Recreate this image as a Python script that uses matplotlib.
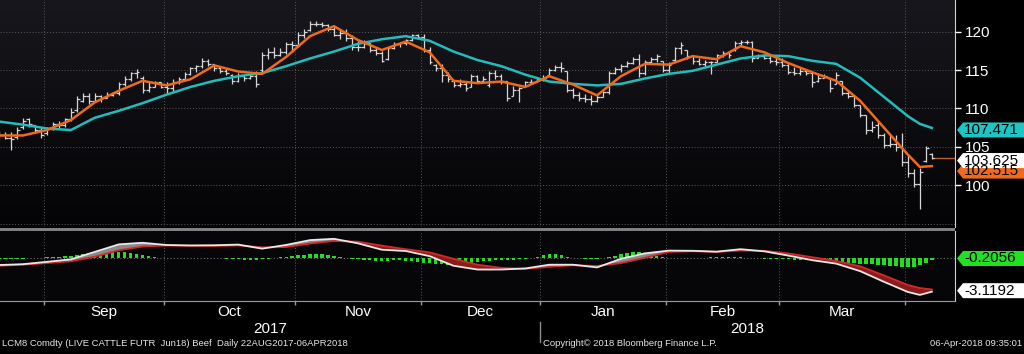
import numpy as np
import matplotlib
matplotlib.use("Agg")
import matplotlib.pyplot as plt
from matplotlib.patches import Polygon, Rectangle
from matplotlib.transforms import IdentityTransform, blended_transform_factory
from matplotlib.colors import LinearSegmentedColormap

plt.rcParams['font.family'] = ['Liberation Sans', 'DejaVu Sans']

# LCM8 daily bars, trading days 22 Aug 2017 .. 06 Apr 2018 (index 0..156)
bar_open = [106.8, 106.5, 106.2, 106.3, 107.6, 108.6, 107.8, 107.2, 106.8, 107.4,
            108.0, 107.8, 108.6, 109.8, 111.0, 111.6, 111.0, 111.6, 111.4, 111.8,
            112.0, 113.2, 113.8, 114.6, 114.0, 112.4, 112.8, 113.4, 112.8, 112.6,
            113.4, 113.8, 114.5, 115.2, 115.5, 116.2, 115.8, 115.2, 114.9, 114.4,
            113.6, 114.2, 114.0, 114.2, 115.0, 117.0, 117.4, 117.0, 117.4, 118.4,
            118.2, 119.6, 120.2, 121.0, 121.0, 120.8, 120.3, 119.6, 119.8, 119.2,
            118.0, 118.0, 118.5, 117.6, 117.2, 116.4, 117.8, 118.4, 118.5, 118.9,
            119.5, 119.3, 117.6, 115.6, 115.2, 114.4, 113.6, 113.1, 113.2, 112.8,
            114.2, 113.6, 113.0, 114.6, 114.2, 113.6, 111.6, 112.4, 112.8, 113.4,
            113.5, 113.8, 114.3, 115.0, 115.4, 114.9, 112.4, 111.8, 111.4, 111.2,
            111.0, 111.5, 112.1, 114.6, 115.1, 115.5, 115.9, 116.4, 114.6, 116.0,
            116.4, 116.2, 115.0, 116.3, 117.8, 117.6, 116.8, 116.2, 115.8, 116.0,
            116.1, 116.9, 117.2, 117.6, 118.5, 118.6, 118.7, 116.6, 116.8, 116.6,
            116.2, 116.0, 115.6, 114.8, 114.6, 114.9, 114.6, 113.6, 114.0, 113.9,
            113.2, 113.6, 112.0, 111.6, 110.4, 109.1, 107.2, 107.8, 106.6, 105.2,
            105.4, 105.0, 103.0, 101.6, 100.2, 103.2, 104.1]
bar_high = [107.1, 107.0, 107.0, 107.6, 108.8, 108.8, 107.8, 107.6, 107.6, 108.2,
            108.4, 108.8, 110.0, 111.6, 112.0, 112.0, 112.0, 111.8, 112.2, 112.2,
            113.4, 114.2, 114.8, 115.1, 114.2, 113.4, 113.6, 113.4, 113.4, 113.8,
            114.1, 114.7, 115.4, 115.7, 116.5, 116.4, 115.8, 115.4, 115.2, 114.5,
            114.6, 114.4, 114.6, 114.9, 117.4, 117.9, 118.0, 117.8, 118.6, 118.8,
            119.9, 120.3, 121.4, 121.4, 121.3, 121.0, 120.6, 120.3, 120.3, 119.6,
            118.8, 118.9, 118.5, 117.8, 117.5, 118.0, 118.6, 118.7, 119.0, 119.7,
            119.7, 119.7, 118.0, 115.8, 115.8, 114.7, 113.6, 113.8, 113.4, 114.5,
            114.3, 114.2, 114.9, 115.0, 114.5, 113.6, 112.9, 112.8, 113.6, 113.8,
            114.1, 114.3, 115.2, 115.6, 116.0, 114.9, 112.6, 112.1, 111.9, 111.7,
            111.8, 112.3, 114.9, 115.4, 115.8, 116.2, 116.7, 117.1, 116.3, 116.7,
            117.1, 116.2, 116.0, 118.0, 118.6, 117.6, 116.9, 116.5, 116.3, 116.2,
            117.1, 117.5, 117.4, 118.8, 118.9, 118.9, 118.8, 117.1, 117.1, 116.8,
            116.7, 116.6, 115.8, 115.4, 115.2, 115.0, 114.9, 114.5, 114.5, 113.9,
            114.7, 113.6, 112.3, 111.7, 110.4, 109.1, 108.4, 108.4, 106.8, 106.6,
            106.6, 106.8, 104.0, 102.1, 102.3, 105.1, 104.2]
bar_low = [106.0, 106.0, 104.6, 106.0, 107.4, 107.6, 106.8, 106.2, 106.6, 107.2,
           107.4, 107.6, 108.4, 109.6, 110.8, 110.6, 110.8, 110.8, 111.4, 111.6,
           111.8, 112.9, 113.6, 114.0, 112.0, 112.2, 112.8, 112.6, 111.9, 112.3,
           113.2, 113.8, 114.4, 114.8, 115.2, 115.5, 114.9, 114.6, 114.4, 113.2,
           113.4, 113.6, 113.8, 112.8, 114.8, 116.4, 116.5, 116.8, 117.1, 117.4,
           118.1, 119.2, 120.1, 120.7, 120.6, 120.1, 119.4, 119.0, 118.8, 117.6,
           117.5, 117.9, 117.3, 116.9, 116.0, 116.3, 117.7, 118.0, 118.3, 118.8,
           119.0, 117.3, 115.8, 114.9, 113.4, 113.4, 112.8, 112.8, 112.3, 112.8,
           113.3, 113.3, 112.8, 113.8, 113.2, 111.0, 111.6, 110.8, 112.8, 113.2,
           113.4, 113.6, 114.3, 114.9, 114.7, 112.1, 111.3, 111.0, 110.8, 110.4,
           110.9, 111.5, 111.9, 114.5, 114.8, 115.4, 115.8, 114.1, 114.3, 115.8,
           116.0, 114.7, 114.5, 116.2, 117.1, 116.4, 115.8, 115.6, 115.4, 114.5,
           116.0, 116.7, 116.6, 117.5, 118.2, 118.4, 116.0, 116.5, 116.4, 115.9,
           115.6, 115.4, 114.5, 114.3, 114.4, 114.4, 112.8, 113.5, 114.0, 112.2,
           113.2, 111.7, 111.4, 110.2, 108.9, 106.7, 107.0, 106.2, 104.9, 105.0,
           104.5, 102.5, 101.1, 99.8, 97.0, 103.0, 103.5]
bar_close = [106.5, 106.2, 106.0, 107.2, 108.4, 108.0, 107.2, 106.6, 107.4, 108.0,
             107.8, 108.6, 109.6, 111.2, 111.6, 111.0, 111.6, 111.4, 111.8, 112.0,
             113.2, 113.8, 114.6, 114.8, 112.4, 112.8, 113.4, 112.8, 112.6, 113.4,
             113.8, 114.5, 115.2, 115.5, 116.2, 115.8, 115.2, 114.9, 114.6, 113.6,
             114.2, 114.0, 114.2, 113.2, 116.9, 117.4, 117.0, 117.4, 118.4, 118.2,
             119.6, 120.0, 121.0, 121.0, 120.8, 120.3, 119.6, 119.8, 119.2, 118.0,
             118.0, 118.5, 117.6, 117.2, 116.2, 117.8, 118.4, 118.5, 118.9, 119.5,
             119.3, 117.6, 116.0, 115.2, 114.4, 113.8, 113.1, 113.2, 112.6, 114.2,
             113.6, 113.8, 114.6, 114.2, 113.6, 111.4, 112.4, 112.6, 113.4, 113.5,
             113.8, 114.0, 115.0, 115.4, 115.2, 112.4, 111.8, 111.4, 111.2, 111.0,
             111.5, 112.1, 114.6, 115.1, 115.5, 115.9, 116.4, 114.6, 116.0, 116.4,
             116.8, 115.0, 115.6, 117.8, 118.2, 116.8, 116.2, 115.8, 116.0, 116.0,
             116.9, 117.2, 117.0, 118.5, 118.6, 118.7, 116.6, 116.8, 116.6, 116.2,
             116.0, 115.6, 114.8, 114.6, 114.9, 114.6, 113.4, 114.0, 114.2, 112.6,
             114.4, 112.0, 111.6, 110.4, 109.1, 107.2, 107.6, 106.6, 105.2, 105.4,
             105.0, 103.0, 101.6, 100.2, 101.8, 104.9, 103.625]

sample_days = [0, 4, 8, 12, 16, 20, 24, 28, 32, 36, 40, 44, 48, 52, 56, 60, 64, 68, 72, 76,
               80, 84, 88, 92, 96, 100, 104, 108, 112, 116, 120, 124, 128, 132, 136, 140,
               144, 148, 152, 154, 156]
ma_fast = [106.5, 106.5, 107.2, 108.5, 110.8, 112.3, 113.6, 113.0, 113.8, 115.6,
           114.8, 114.5, 116.7, 119.4, 120.7, 118.9, 117.6, 118.7, 117.3, 113.6,
           113.3, 113.5, 112.8, 114.2, 113.1, 111.7, 114.2, 115.8, 115.7, 116.8,
           116.4, 118.1, 117.3, 115.9, 114.7, 113.6, 111.0, 107.5, 104.0, 102.4, 102.515]
ma_slow = [108.3, 107.9, 107.4, 107.2, 108.8, 109.7, 110.7, 111.8, 112.8, 113.6,
           114.2, 114.6, 115.5, 116.5, 117.4, 118.4, 119.0, 119.4, 118.8, 117.4,
           116.3, 115.5, 114.4, 113.5, 113.2, 113.0, 113.2, 113.9, 114.5, 114.9,
           115.7, 116.5, 116.9, 116.8, 116.2, 115.8, 114.0, 111.5, 109.0, 108.0, 107.471]
macd_line = [-0.63, -0.55, -0.33, -0.1, 0.6, 1.3, 1.45, 1.24, 1.2, 1.22,
             1.28, 0.9, 1.25, 1.7, 1.82, 1.4, 0.8, 0.68, 0.2, -0.7,
             -1.05, -1.05, -0.95, -0.6, -0.6, -0.85, -0.05, 0.46, 0.72, 0.7,
             0.62, 0.85, 0.65, 0.25, -0.18, -0.5, -1.2, -2.2, -3.15, -3.42, -3.1192]
macd_signal = [-0.7, -0.6, -0.45, -0.28, 0.15, 0.75, 1.1, 1.2, 1.17, 1.15,
               1.2, 1.02, 1.05, 1.38, 1.62, 1.55, 1.18, 0.85, 0.55, -0.05,
               -0.6, -0.9, -0.98, -0.8, -0.65, -0.72, -0.45, 0.05, 0.6, 0.66,
               0.6, 0.72, 0.7, 0.45, 0.1, -0.25, -0.75, -1.6, -2.5, -2.78, -2.9136]
# daily histogram
macd_hist = [-0.05, -0.05, -0.04, -0.03, -0.02, 0.0, 0.02,
             0.05, 0.08, 0.12, 0.15, 0.2, 0.25, 0.3,
             0.38, 0.45, 0.5, 0.55, 0.6, 0.6, 0.58, 0.55, 0.5,
             0.4, 0.3, 0.2, 0.12, 0.06,
             0.03, 0.02, 0.0, 0.02, 0.03, 0.04, 0.05, 0.04, 0.02, 0.0, -0.02,
             -0.05, -0.1, -0.15, -0.18, -0.15, -0.1, -0.05,
             0.02, 0.08, 0.15, 0.22, 0.28, 0.33, 0.38, 0.4, 0.38, 0.33, 0.25, 0.15, 0.06,
             -0.05, -0.1, -0.15, -0.2, -0.22, -0.25, -0.22, -0.2, -0.2, -0.22,
             -0.28, -0.33, -0.4, -0.45, -0.5, -0.55, -0.58, -0.6, -0.6, -0.5,
             -0.4, -0.32, -0.28, -0.25, -0.2, -0.18, -0.15, -0.12, -0.08, -0.04,
             0.05, 0.15, 0.3, 0.4, 0.4, 0.3, 0.15, 0.05, 0.0, -0.02, -0.03, -0.02, 0.0,
             0.1, 0.25, 0.4, 0.52, 0.6, 0.58, 0.5, 0.38, 0.25, 0.12,
             0.05, 0.02, 0.0, 0.02, 0.04, 0.05, 0.06, 0.08, 0.1, 0.12, 0.14, 0.12,
             0.08, 0.05, 0.02, 0.0, -0.02, -0.04, -0.06,
             -0.08, -0.1, -0.12, -0.14, -0.15, -0.15, -0.16, -0.2,
             -0.25, -0.3, -0.35, -0.4, -0.45, -0.5, -0.55, -0.55, -0.6, -0.65,
             -0.7, -0.75, -0.8, -0.85, -0.8, -0.6, -0.4, -0.2056]

# first trading day index of each month
month_first = [8, 28, 50, 71, 91, 112, 131, 152]
month_names = ['Sep', 'Oct', 'Nov', 'Dec', 'Jan', 'Feb', 'Mar']
year_names = ['2017', '2018']

W, H = 1024, 354
fig = plt.figure(figsize=(W / 100, H / 100), dpi=100, facecolor='black')

def fx(px):
    return px / W

def fy(py):
    return 1 - py / H

ax = fig.add_axes([0, fy(227), fx(955), 227 / H])
ax2 = fig.add_axes([0, fy(301), fx(955), 70 / H])
x_lo, x_hi = 0.14, 159.87

# dark gradient background
bg = LinearSegmentedColormap.from_list('bg', ['#040406', '#17171d'])
grad = np.linspace(0, 1, 256).reshape(-1, 1)
ax.imshow(grad, cmap=bg, extent=[0, 1, 0, 1], transform=ax.transAxes,
          aspect='auto', origin='lower', zorder=0)
ax2.set_facecolor('#060608')

days = np.arange(len(bar_close))
edges = [m - 0.5 for m in month_first]
grid_kw = dict(color='#5a5a5a', lw=0.7, ls=(0, (1, 2)), zorder=1)

# ---- price panel
for e in edges:
    ax.axvline(e, **grid_kw)
for v in [95, 100, 105, 110, 115, 120]:
    ax.axhline(v, **grid_kw)

bar_col = '#d6d6d6'
ax.vlines(days, bar_low, bar_high, color=bar_col, lw=0.9, zorder=2)
ax.hlines(bar_open, days - 0.45, days, color=bar_col, lw=0.9, zorder=2)
ax.hlines(bar_close, days, days + 0.45, color=bar_col, lw=0.9, zorder=2)
ax.plot(sample_days, ma_slow, color='#22bcbc', lw=1.8, zorder=3, solid_joinstyle='round')
ax.plot(sample_days, ma_fast, color='#f0691c', lw=1.8, zorder=4, solid_joinstyle='round')
ax.plot([days[-1] + 0.45, x_hi], [bar_close[-1]] * 2, color='#b8602c', lw=1, zorder=4)

ax.set_xlim(x_lo, x_hi)
ax.set_ylim(94.6, 124.1)
ax.set_xticks([])
ax.yaxis.tick_right()
ax.set_yticks([100, 105, 110, 115, 120])
ax.tick_params(axis='y', colors='white', labelsize=11, length=4, width=1, pad=3)
for s in ['left', 'top', 'bottom']:
    ax.spines[s].set_visible(False)
ax.spines['right'].set_color('#d0d0d0')

# ---- MACD panel
for e in edges:
    ax2.axvline(e, **grid_kw)
ax2.axhline(0, color='#6a6a6a', lw=0.8, ls=(0, (1, 2)), zorder=1)
ax2.bar(days, macd_hist, width=0.55, color='#22dd22', zorder=2)
m = np.array(macd_line)
s = np.array(macd_signal)
ax2.fill_between(sample_days, m, s, where=m >= s, interpolate=True,
                 color='#8a8a8a', lw=0, zorder=3)
ax2.fill_between(sample_days, m, s, where=m < s, interpolate=True,
                 color='#8c1c1c', lw=0, zorder=3)
ax2.plot(sample_days, macd_signal, color='#d3282a', lw=1.3, zorder=4, solid_joinstyle='round')
ax2.plot(sample_days, macd_line, color='#e8e8e8', lw=1.3, zorder=5, solid_joinstyle='round')
ax2.set_xlim(x_lo, x_hi)
ax2.set_ylim(-3.99, 2.55)
ax2.set_yticks([])
ax2.set_xticks(edges)
ax2.set_xticklabels([])
ax2.tick_params(axis='x', colors='#9a9a9a', length=3, width=1)
for sp in ['left', 'top']:
    ax2.spines[sp].set_visible(False)
ax2.spines['bottom'].set_color('#9a9a9a')
ax2.spines['right'].set_color('#d0d0d0')

# separator band between panels
fig.add_artist(Rectangle((0, fy(231)), fx(955), 3.5 / H, transform=fig.transFigure,
                         color='#808080', lw=0))

# ---- value tags on the right (shift = pixels downward, as Bloomberg stacks them)
def tag(axis, value, text, face, shift=0):
    py = axis.transData.transform((x_hi, value))[1] - shift
    x0, tip, x1, h = 957, 6, 1024, 7.5
    pts = [[x0, py], [x0 + tip, py + h], [x1, py + h], [x1, py - h], [x0 + tip, py - h]]
    fig.add_artist(Polygon(pts, closed=True, transform=IdentityTransform(),
                           facecolor=face, edgecolor='none', zorder=5))
    fig.text(fx(964), py / H, text, color='black', fontsize=11, va='center',
             ha='left', zorder=6)

tag(ax, ma_slow[-1], f'{ma_slow[-1]:.3f}', '#1fc4c4', 2)
tag(ax, ma_fast[-1], f'{ma_fast[-1]:.3f}', '#f0691c', 5)
tag(ax, bar_close[-1], f'{bar_close[-1]:.3f}', '#ffffff', 3)
tag(ax2, macd_hist[-1], f'{macd_hist[-1]:.4f}', '#22e022', -2)
tag(ax2, macd_line[-1], f'{macd_line[-1]:.4f}', '#ffffff', -1)

# ---- date labels
bt = blended_transform_factory(ax2.transData, fig.transFigure)
for name, a, b in zip(month_names, edges[:-1], edges[1:]):
    ax2.text((a + b) / 2, fy(312), name, transform=bt, ha='center', va='center',
             color='white', fontsize=11)
year_spans = [(x_lo, edges[4]), (edges[4], x_hi)]
for name, (a, b) in zip(year_names, year_spans):
    ax2.text((a + b) / 2, fy(329), name, transform=bt, ha='center', va='center',
             color='white', fontsize=11)
ax2.plot([edges[4], edges[4]], [fy(322), fy(342)], transform=bt, color='#8c8c8c',
         lw=1, clip_on=False)

# ---- footer
foot = dict(color='#e6e6e6', fontsize=6.8, va='center')
fig.text(fx(2), fy(343), 'LCM8 Comdty (LIVE CATTLE FUTR  Jun18) Beef  Daily 22AUG2017-06APR2018', **foot)
fig.text(fx(543), fy(343), 'Copyright\u00a9 2018 Bloomberg Finance L.P.', **foot)
fig.text(fx(1022), fy(343), '06-Apr-2018 09:35:01', ha='right', **foot)

fig.savefig('out.png', dpi=100, facecolor='black')
